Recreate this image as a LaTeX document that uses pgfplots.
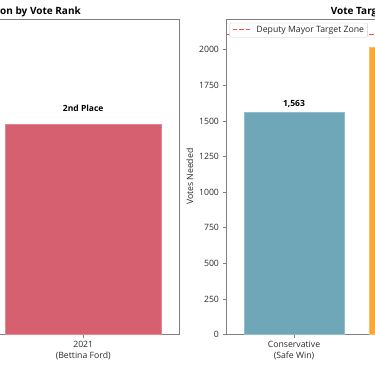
\documentclass[border=0pt]{standalone}
\usepackage{fontspec}
\setmainfont{Open Sans}
\usepackage{pgfplots}
\pgfplotsset{compat=1.18}
\definecolor{pinkbar}{HTML}{D6606F}
\definecolor{bluebar}{HTML}{6FA7B8}
\definecolor{orangebar}{HTML}{F5A93B}
\definecolor{spine}{HTML}{808080}
\definecolor{ticktext}{HTML}{2A2A2A}
\definecolor{targetred}{HTML}{FF4A4A}
\newcommand{\tickfont}{\fontsize{8.7}{10.4}\selectfont}
\newcommand{\reddash}{\textcolor{targetred}{\rule[2.4pt]{4.5pt}{1.1pt}\hspace{2pt}\rule[2.4pt]{4.5pt}{1.1pt}\hspace{2pt}\rule[2.4pt]{4.5pt}{1.1pt}}}
\pgfplotsset{
  common/.style={
    scale only axis,
    anchor=south west,
    axis line style={spine, line width=0.8pt},
    tick style={spine, line width=0.8pt},
    tick align=outside,
    major tick length=3.5pt,
    xtick pos=bottom, ytick pos=left,
    ticklabel style={font=\tickfont, text=ticktext},
    /pgf/number format/assume math mode=true,
    /pgf/number format/1000 sep={},
    ybar, bar width=0.8, bar shift=0pt,
    ymin=0,
    clip=false,
  }
}
\begin{document}
\begin{tikzpicture}[x=1pt,y=1pt]
\path[use as bounding box] (0,0) rectangle (375,366);
\clip (0,0) rectangle (375,366);
% left panel
\begin{axis}[common,
  at={(-208pt,31.5pt)}, width=387pt, height=315.5pt,
  xmin=-0.49, xmax=1.49, ymax=3,
  ytick=\empty,
  xtick={1}, xticklabels={2021\\(Bettina Ford)},
  xticklabel style={align=center},
]
\addplot[fill=pinkbar, draw=pinkbar!75!white, line width=0.6pt] coordinates {(1,2)};
\node[font=\fontsize{8.5}{10}\selectfont\bfseries, anchor=south, inner sep=0pt] at (axis cs:1,2) [yshift=12pt] {2nd Place};
\end{axis}
% right panel
\begin{axis}[common,
  at={(226pt,31.5pt)}, width=386pt, height=315.5pt,
  xmin=-0.544, xmax=2.544, ymax=2216,
  ytick={0,250,500,750,1000,1250,1500,1750,2000},
  xtick={0}, xticklabels={Conservative\\(Safe Win)},
  xticklabel style={align=center},
  ylabel={Votes Needed},
  ylabel style={font=\tickfont, text=ticktext, at={(axis description cs:-0.0933,0.5)}, anchor=center},
]
\addplot[fill=bluebar, draw=bluebar!75!white, line width=0.6pt] coordinates {(0,1563)};
\addplot[fill=orangebar, draw=orangebar!75!white, line width=0.6pt] coordinates {(1,2014)};
\addplot[sharp plot, targetred, line width=1pt, dash pattern=on 4.5pt off 2pt]
  coordinates {(-0.544,2108) (2.544,2108)};
\node[font=\fontsize{8.5}{10}\selectfont\bfseries, anchor=south, inner sep=0pt] at (axis cs:0,1563) [yshift=4pt] {1,563};
\node[font=\fontsize{8.5}{10}\selectfont\bfseries, anchor=south, inner sep=0pt] at (axis cs:1,2014) [yshift=4pt] {2,014};
\node[anchor=north west, draw=black!20, fill=white, rounded corners=2pt, font=\tickfont,
  inner xsep=3.5pt, inner ysep=3pt] at (axis description cs:0.0085,0.988)
  {\reddash\hspace{6pt}\textcolor{ticktext}{Deputy Mayor Target Zone}};
\end{axis}
% titles
\node[font=\fontsize{10}{12}\selectfont\bfseries, anchor=base east, inner sep=0pt] at (81,351.7) {Finishing Position by Vote Rank};
\node[font=\fontsize{10}{12}\selectfont\bfseries, anchor=base west, inner sep=0pt] at (330.7,351.7) {Vote Targets by Scenario};
\end{tikzpicture}
\end{document}
